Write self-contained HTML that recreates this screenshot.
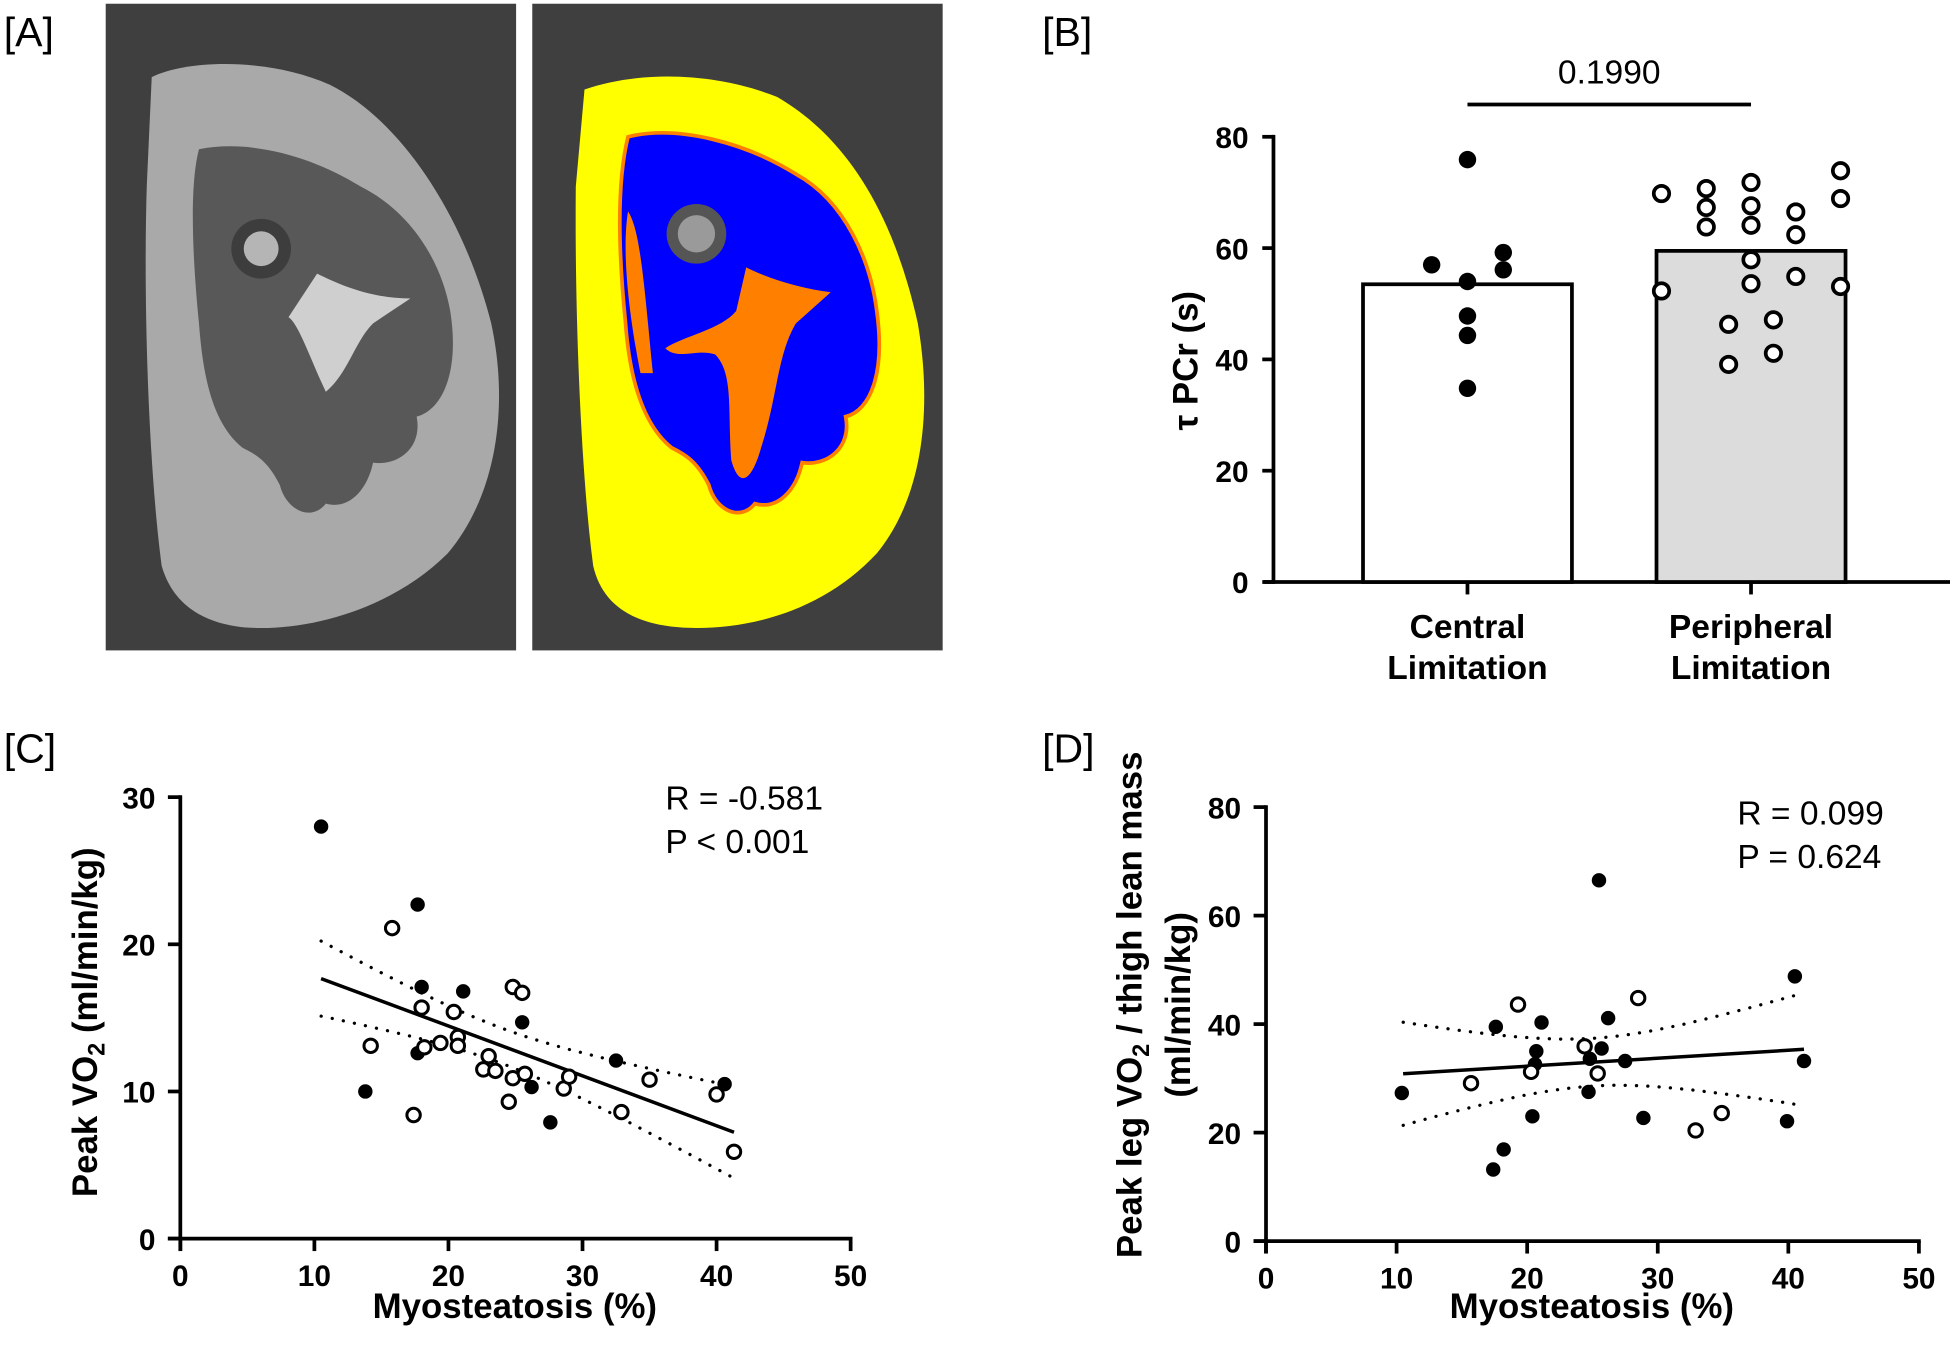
<!DOCTYPE html>
<html><head><meta charset="utf-8"><style>
html,body{margin:0;padding:0;background:#fff;}
svg{display:block;font-family:"Liberation Sans",Arial,sans-serif;}
.tick{font-weight:bold;font-size:24px;}
.ttl{font-weight:bold;font-size:28px;}
.cat{font-weight:bold;font-size:27px;}
.ann{font-size:27px;}
.pl{font-size:33px;}
</style></head><body>
<svg id="fig" width="1950" height="1360" viewBox="0 0 1568 1093.6" preserveAspectRatio="none" xmlns="http://www.w3.org/2000/svg">
<g id="panelA">
  <text class="pl" x="3" y="37">[A]</text>
  <rect x="85" y="3" width="330" height="520" fill="#3f3f3f"/>
  <path fill="#a9a9a9" d="M122,62 C150,48 215,46 265,68 C320,95 372,170 395,260 C410,330 398,400 360,445 C320,485 260,505 210,505 C170,505 140,490 130,455 C120,380 115,250 118,150 Z"/>
  <path fill="#585858" d="M160,120 C200,112 250,125 290,150 C330,170 355,210 362,250 C370,300 355,330 335,335 C340,360 320,375 300,372 C295,395 280,410 262,405 C250,420 230,410 225,390 C215,370 205,365 195,360 C170,340 163,300 160,260 C155,210 152,150 160,120 Z"/>
  <path fill="#cfcfcf" d="M255,220 C275,230 300,240 330,240 L300,260 C285,275 280,300 262,315 C250,290 240,260 232,255 Z"/>
  <circle cx="210" cy="200" r="24" fill="#3d3d3d"/>
  <circle cx="210" cy="200" r="14" fill="#b5b5b5"/>
  <rect x="428" y="3" width="330" height="520" fill="#3f3f3f"/>
  <path fill="#ffff00" d="M470,72 C520,55 580,60 625,78 C680,110 718,170 738,260 C750,330 742,400 705,445 C665,488 610,505 560,505 C515,505 485,490 477,455 C467,380 462,250 463,150 Z"/>
  <path fill="#0000ff" stroke="#ff7f00" stroke-width="3" d="M505,110 C545,100 600,115 640,140 C680,162 700,210 705,250 C712,300 700,330 680,335 C685,360 665,375 645,372 C640,395 625,410 607,405 C595,420 575,410 570,390 C560,370 550,365 540,360 C515,340 506,300 503,260 C498,210 495,150 505,110 Z"/>
  <path fill="#ff7f00" d="M600,215 C620,225 645,232 668,235 L640,260 C625,285 625,320 612,360 C605,385 595,395 588,370 C585,330 590,300 575,285 C560,280 545,290 535,280 C550,270 580,265 592,250 Z"/>
  <path fill="#ff7f00" d="M505,170 C515,185 518,230 525,300 L515,300 C505,250 500,200 505,170 Z"/>
  <circle cx="560" cy="188" r="24" fill="#555"/>
  <circle cx="560" cy="188" r="15" fill="#9a9a9a"/>
</g>

<g id="panelB">
  <text class="pl" x="838" y="37">[B]</text>
  <g id="bAxes"></g><g id="bMarks"></g>
  <text class="ttl" transform="translate(963,290) rotate(-90)" text-anchor="middle">τ PCr (s)</text>
  <line x1="1180" y1="84" x2="1408" y2="84" stroke="#000" stroke-width="3"/>
  <text class="ann" x="1294" y="67" text-anchor="middle">0.1990</text>
</g>

<g id="panelC">
  <text class="pl" x="3" y="613">[C]</text>
  <g id="cAxes"></g><g id="cMarks"></g>
  <text class="ttl" transform="translate(78,822) rotate(-90)" text-anchor="middle">Peak VO<tspan font-size="19" dy="6">2</tspan><tspan dy="-6"> (ml/min/kg)</tspan></text>
  <text class="ttl" x="414" y="1060" text-anchor="middle">Myosteatosis (%)</text>
  <text class="ann" x="535" y="651">R = -0.581</text>
  <text class="ann" x="535" y="686">P &lt; 0.001</text>
</g>

<g id="panelD">
  <text class="pl" x="838" y="613">[D]</text>
  <g id="dAxes"></g><g id="dMarks"></g>
  <text class="ttl" transform="translate(918,808) rotate(-90)" text-anchor="middle">Peak leg VO<tspan font-size="19" dy="6">2</tspan><tspan dy="-6"> / thigh lean mass</tspan></text>
  <text class="ttl" transform="translate(957,808) rotate(-90)" text-anchor="middle">(ml/min/kg)</text>
  <text class="ttl" x="1280" y="1060" text-anchor="middle">Myosteatosis (%)</text>
  <text class="ann" x="1397" y="663">R = 0.099</text>
  <text class="ann" x="1397" y="698">P = 0.624</text>
</g>
</svg>
<script>
// ---- Panel B data ----
const bCategories = ["Central", "Peripheral"];
const bCatLine2 = ["Limitation", "Limitation"];
const bMeans = [53.5, 59.5];
const bYTicks = [0, 20, 40, 60, 80];
const bCentralVals = [57, 75.9, 54, 47.8, 44.3, 34.8, 59.2, 56.1];
const bCentralJit = [-2, 0, 0, 0, 0, 0, 2, 2];
const bPeriphVals = [69.8, 52.3, 70.7, 67.3, 63.8, 71.8, 67.6, 64.1, 57.9, 53.6, 46.3, 39.1, 47.1, 41.1, 66.5, 62.4, 54.9, 73.9, 68.9, 53.1];
const bPeriphJit = [-4, -4, -2, -2, -2, 0, 0, 0, 0, 0, -1, -1, 1, 1, 2, 2, 2, 4, 4, 4];

// ---- Panel C data ----
const cXTicks = [0, 10, 20, 30, 40, 50];
const cYTicks = [0, 10, 20, 30];
const cFilledX = [10.5, 17.7, 18.0, 21.1, 25.5, 13.8, 17.7, 26.2, 27.6, 32.5, 40.6];
const cFilledY = [28.0, 22.7, 17.1, 16.8, 14.7, 10.0, 12.6, 10.3, 7.9, 12.1, 10.5];
const cOpenX = [15.8, 14.2, 17.4, 18.0, 18.2, 19.4, 20.4, 20.7, 20.7, 23.0, 22.6, 23.5, 24.8, 25.5, 24.8, 24.5, 25.7, 28.6, 29.0, 32.9, 35.0, 40.0, 41.3];
const cOpenY = [21.1, 13.1, 8.4, 15.7, 13.0, 13.3, 15.4, 13.7, 13.1, 12.4, 11.5, 11.4, 17.1, 16.7, 10.9, 9.3, 11.2, 10.2, 11.0, 8.6, 10.8, 9.8, 5.9];
const cFit = [-0.339, 21.23];
const cFitRange = [10.5, 41.3];
const cCI = [1.2, 0.0278, 24];

// ---- Panel D data ----
const dXTicks = [0, 10, 20, 30, 40, 50];
const dYTicks = [0, 20, 40, 60, 80];
const dFilledX = [10.4, 17.6, 17.4, 18.2, 20.7, 20.6, 21.1, 20.4, 25.5, 24.8, 24.7, 25.7, 26.2, 27.5, 28.9, 39.9, 40.5, 41.2];
const dFilledY = [27.3, 39.5, 13.2, 16.9, 35.0, 32.6, 40.3, 23.0, 66.5, 33.6, 27.5, 35.5, 41.1, 33.2, 22.7, 22.1, 48.8, 33.2];
const dOpenX = [15.7, 19.3, 20.3, 24.4, 25.4, 28.5, 32.9, 34.9];
const dOpenY = [29.1, 43.6, 31.2, 35.9, 30.9, 44.8, 20.4, 23.6];
const dFit = [0.147, 29.3];
const dFitRange = [10.5, 41.2];
const dCI = [4.4, 0.337, 25];

const NS = "http://www.w3.org/2000/svg";
function mk(parent, tag, attrs) {
  const e = document.createElementNS(NS, tag);
  for (const k in attrs) e.setAttribute(k, attrs[k]);
  parent.appendChild(e);
  return e;
}
function lin(d0, d1, r0, r1) { return v => r0 + (v - d0) * (r1 - r0) / (d1 - d0); }

// ---------- Panel B ----------
(function () {
  const ax = document.getElementById("bAxes"), mg = document.getElementById("bMarks");
  const y = lin(0, 80, 468, 110);
  const cx = [1180, 1408];
  const bw = [168, 152];
  const jit = [14.4, 14.4];
  let l = mk(ax, "line", {x1: 1024, y1: y(80) - 1.5, x2: 1024, y2: y(0) + 1.5, stroke: "#000", "stroke-width": 3});
  
  
  l = mk(ax, "line", {x1: 1016, y1: y(0), x2: 1568, y2: y(0), stroke: "#000", "stroke-width": 3});
  
  
  bYTicks.forEach(t => {
    const tk = mk(ax, "line", {x1: 1015, y1: y(t), x2: 1024, y2: y(t), stroke: "#000", "stroke-width": 3});
    
    
    const tx = mk(ax, "text", {x: 1004, y: y(t) + 9, "text-anchor": "end", class: "tick"});
    tx.textContent = t;
    
    
  });
  bCategories.forEach((c, i) => {
    const r = mk(mg, "rect", {x: cx[i] - bw[i] / 2, y: y(bMeans[i]), width: bw[i], height: y(0) - y(bMeans[i]), fill: i ? "#dcdcdc" : "#fff", stroke: "#000", "stroke-width": 3});
    
    
    const tk = mk(ax, "line", {x1: cx[i], y1: y(0), x2: cx[i], y2: y(0) + 10, stroke: "#000", "stroke-width": 3});
    
    
    const t1 = mk(ax, "text", {x: cx[i], y: 513, "text-anchor": "middle", class: "cat"});
    t1.textContent = c;
    
    
    const t2 = mk(ax, "text", {x: cx[i], y: 546, "text-anchor": "middle", class: "cat"});
    t2.textContent = bCatLine2[i];
    
    
  });
  bCentralVals.forEach((v, i) => {
    const c = mk(mg, "circle", {cx: cx[0] + bCentralJit[i] * jit[0], cy: y(v), r: 7, fill: "#000"});
    
    
  });
  bPeriphVals.forEach((v, i) => {
    const c = mk(mg, "circle", {cx: cx[1] + bPeriphJit[i] * jit[1] * 1.25, cy: y(v), r: 6.2, fill: "#fff", stroke: "#000", "stroke-width": 3});
    
    
  });
})();

// ---------- Scatter panels ----------
function scatter(axId, mId, tag, X0, X1, Y0, Y1, xt, yt, ymax, fx, fy, ox, oy, fit, range, ci) {
  const ax = document.getElementById(axId), mg = document.getElementById(mId);
  const x = lin(0, 50, X0, X1), y = lin(0, ymax, Y0, Y1);
  let l = mk(ax, "line", {x1: X0, y1: Y1 - 1.5, x2: X0, y2: Y0 + 10, stroke: "#000", "stroke-width": 3});
  
  
  l = mk(ax, "line", {x1: X0 - 10, y1: Y0, x2: X1 + 1.5, y2: Y0, stroke: "#000", "stroke-width": 3});
  
  
  yt.forEach(t => {
    const tk = mk(ax, "line", {x1: X0 - 10, y1: y(t), x2: X0, y2: y(t), stroke: "#000", "stroke-width": 3});
    
    
    const tx = mk(ax, "text", {x: X0 - 20, y: y(t) + 9, "text-anchor": "end", class: "tick"});
    tx.textContent = t;
    
    
  });
  xt.forEach(t => {
    const tk = mk(ax, "line", {x1: x(t), y1: Y0, x2: x(t), y2: Y0 + 10, stroke: "#000", "stroke-width": 3});
    
    
    const tx = mk(ax, "text", {x: x(t), y: Y0 + 38, "text-anchor": "middle", class: "tick"});
    tx.textContent = t;
    
    
  });
  const f = v => fit[0] * v + fit[1];
  const hw = v => Math.sqrt(ci[0] * ci[0] + ci[1] * (v - ci[2]) * (v - ci[2]));
  let up = "", lo = "";
  for (let i = 0; i <= 40; i++) {
    const v = range[0] + (range[1] - range[0]) * i / 40;
    up += (i ? "L" : "M") + x(v).toFixed(1) + "," + y(f(v) + hw(v)).toFixed(1);
    lo += (i ? "L" : "M") + x(v).toFixed(1) + "," + y(f(v) - hw(v)).toFixed(1);
  }
  let p = mk(mg, "path", {d: up, fill: "none", stroke: "#000", "stroke-width": 2.6, "stroke-dasharray": "0.1 9", "stroke-linecap": "round"});
  
  
  p = mk(mg, "path", {d: lo, fill: "none", stroke: "#000", "stroke-width": 2.6, "stroke-dasharray": "0.1 9", "stroke-linecap": "round"});
  
  
  p = mk(mg, "line", {x1: x(range[0]), y1: y(f(range[0])), x2: x(range[1]), y2: y(f(range[1])), stroke: "#000", "stroke-width": 2.8});
  
  
  fx.forEach((v, i) => {
    const c = mk(mg, "circle", {cx: x(v), cy: y(fy[i]), r: 5.8, fill: "#000"});
    
    
  });
  ox.forEach((v, i) => {
    const c = mk(mg, "circle", {cx: x(v), cy: y(oy[i]), r: 5.4, fill: "#fff", stroke: "#000", "stroke-width": 2.4});
    
    
  });
}
scatter("cAxes", "cMarks", "c", 145, 684, 996, 641, cXTicks, cYTicks, 30, cFilledX, cFilledY, cOpenX, cOpenY, cFit, cFitRange, cCI);
scatter("dAxes", "dMarks", "d", 1018, 1543, 998, 649, dXTicks, dYTicks, 80, dFilledX, dFilledY, dOpenX, dOpenY, dFit, dFitRange, dCI);
</script>
</body></html>
